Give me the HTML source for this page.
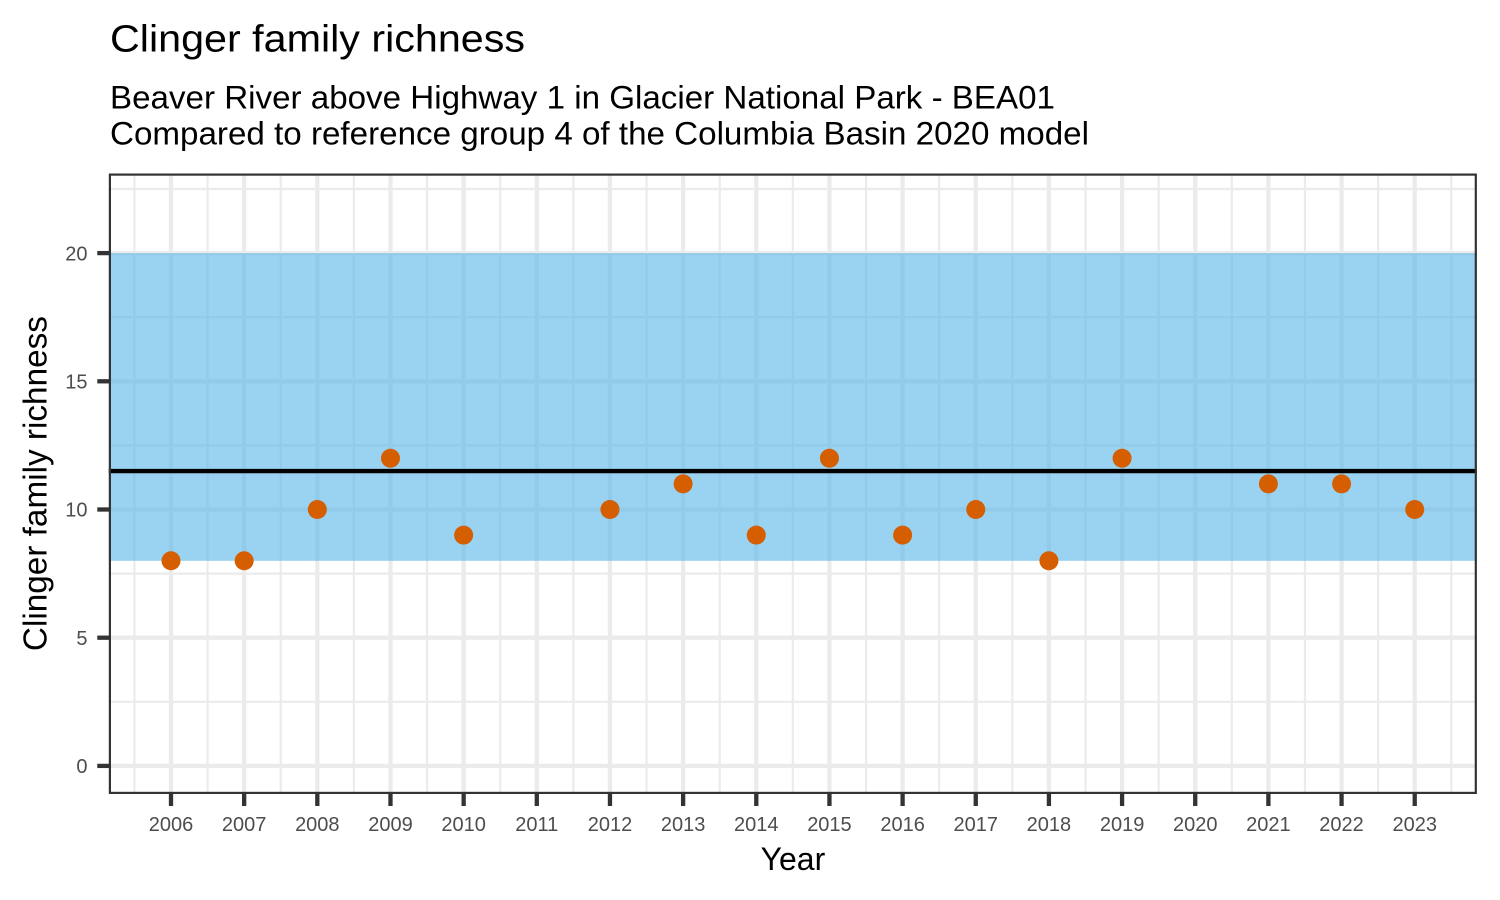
<!DOCTYPE html>
<html>
<head>
<meta charset="utf-8">
<style>
html,body{margin:0;padding:0;background:#fff;}
svg{display:block;}
text{font-family:"Liberation Sans",Arial,sans-serif;}
</style>
</head>
<body>
<svg width="1500" height="900" viewBox="0 0 1500 900" xmlns="http://www.w3.org/2000/svg">
<rect x="0" y="0" width="1500" height="900" fill="#ffffff"/>

<!-- Titles -->
<text x="110" y="51.5" font-size="38" fill="#000" textLength="415" lengthAdjust="spacingAndGlyphs">Clinger family richness</text>
<text x="110" y="108.5" font-size="32.5" fill="#000" textLength="945" lengthAdjust="spacingAndGlyphs">Beaver River above Highway 1 in Glacier National Park - BEA01</text>
<text x="110" y="144.5" font-size="32.5" fill="#000" textLength="979" lengthAdjust="spacingAndGlyphs">Compared to reference group 4 of the Columbia Basin 2020 model</text>

<defs>
<clipPath id="pc"><rect x="108.8" y="173.5" width="1368.1" height="620.5"/></clipPath>
</defs>

<g clip-path="url(#pc)">
<rect x="108.8" y="173.5" width="1368.1" height="620.5" fill="#ffffff"/>
<!-- minor grid -->
<g stroke="#EBEBEB" stroke-width="2.2">
<line x1="100" x2="1480" y1="701.8" y2="701.8"/>
<line x1="100" x2="1480" y1="573.6" y2="573.6"/>
<line x1="100" x2="1480" y1="445.4" y2="445.4"/>
<line x1="100" x2="1480" y1="317.2" y2="317.2"/>
<line x1="100" x2="1480" y1="189.0" y2="189.0"/>
<line y1="170" y2="800" x1="134.42" x2="134.42"/>
<line y1="170" y2="800" x1="207.58" x2="207.58"/>
<line y1="170" y2="800" x1="280.74" x2="280.74"/>
<line y1="170" y2="800" x1="353.9" x2="353.9"/>
<line y1="170" y2="800" x1="427.06" x2="427.06"/>
<line y1="170" y2="800" x1="500.22" x2="500.22"/>
<line y1="170" y2="800" x1="573.38" x2="573.38"/>
<line y1="170" y2="800" x1="646.54" x2="646.54"/>
<line y1="170" y2="800" x1="719.7" x2="719.7"/>
<line y1="170" y2="800" x1="792.86" x2="792.86"/>
<line y1="170" y2="800" x1="866.02" x2="866.02"/>
<line y1="170" y2="800" x1="939.18" x2="939.18"/>
<line y1="170" y2="800" x1="1012.34" x2="1012.34"/>
<line y1="170" y2="800" x1="1085.5" x2="1085.5"/>
<line y1="170" y2="800" x1="1158.66" x2="1158.66"/>
<line y1="170" y2="800" x1="1231.82" x2="1231.82"/>
<line y1="170" y2="800" x1="1304.98" x2="1304.98"/>
<line y1="170" y2="800" x1="1378.14" x2="1378.14"/>
<line y1="170" y2="800" x1="1451.3" x2="1451.3"/>
</g>
<!-- major grid -->
<g stroke="#EBEBEB" stroke-width="4.3">
<line x1="100" x2="1480" y1="765.9" y2="765.9"/>
<line x1="100" x2="1480" y1="637.7" y2="637.7"/>
<line x1="100" x2="1480" y1="509.5" y2="509.5"/>
<line x1="100" x2="1480" y1="381.3" y2="381.3"/>
<line x1="100" x2="1480" y1="253.1" y2="253.1"/>
<line y1="170" y2="800" x1="171" x2="171"/>
<line y1="170" y2="800" x1="244.16" x2="244.16"/>
<line y1="170" y2="800" x1="317.32" x2="317.32"/>
<line y1="170" y2="800" x1="390.48" x2="390.48"/>
<line y1="170" y2="800" x1="463.64" x2="463.64"/>
<line y1="170" y2="800" x1="536.8" x2="536.8"/>
<line y1="170" y2="800" x1="609.96" x2="609.96"/>
<line y1="170" y2="800" x1="683.12" x2="683.12"/>
<line y1="170" y2="800" x1="756.28" x2="756.28"/>
<line y1="170" y2="800" x1="829.44" x2="829.44"/>
<line y1="170" y2="800" x1="902.6" x2="902.6"/>
<line y1="170" y2="800" x1="975.76" x2="975.76"/>
<line y1="170" y2="800" x1="1048.92" x2="1048.92"/>
<line y1="170" y2="800" x1="1122.08" x2="1122.08"/>
<line y1="170" y2="800" x1="1195.24" x2="1195.24"/>
<line y1="170" y2="800" x1="1268.4" x2="1268.4"/>
<line y1="170" y2="800" x1="1341.56" x2="1341.56"/>
<line y1="170" y2="800" x1="1414.72" x2="1414.72"/>
</g>

<!-- reference band -->
<rect x="100" y="253.1" width="1390" height="307.7" fill="#56B4E9" fill-opacity="0.6"/>

<!-- median line -->
<line x1="100" x2="1480" y1="471.04" y2="471.04" stroke="#000" stroke-width="4.3"/>

<!-- points -->
<g fill="#D55E00">
<circle cx="171" cy="560.78" r="9.5"/>
<circle cx="244.16" cy="560.78" r="9.5"/>
<circle cx="317.32" cy="509.5" r="9.5"/>
<circle cx="390.48" cy="458.22" r="9.5"/>
<circle cx="463.64" cy="535.14" r="9.5"/>
<circle cx="609.96" cy="509.5" r="9.5"/>
<circle cx="683.12" cy="483.86" r="9.5"/>
<circle cx="756.28" cy="535.14" r="9.5"/>
<circle cx="829.44" cy="458.22" r="9.5"/>
<circle cx="902.6" cy="535.14" r="9.5"/>
<circle cx="975.76" cy="509.5" r="9.5"/>
<circle cx="1048.92" cy="560.78" r="9.5"/>
<circle cx="1122.08" cy="458.22" r="9.5"/>
<circle cx="1268.4" cy="483.86" r="9.5"/>
<circle cx="1341.56" cy="483.86" r="9.5"/>
<circle cx="1414.72" cy="509.5" r="9.5"/>
</g>
</g>

<!-- panel border (inner half visible) -->
<rect x="109.9" y="174.6" width="1365.9" height="618.3" fill="none" stroke="#333333" stroke-width="2.2"/>

<!-- y ticks -->
<g stroke="#333333" stroke-width="4.3">
<line x1="97.3" x2="109" y1="765.9" y2="765.9"/>
<line x1="97.3" x2="109" y1="637.7" y2="637.7"/>
<line x1="97.3" x2="109" y1="509.5" y2="509.5"/>
<line x1="97.3" x2="109" y1="381.3" y2="381.3"/>
<line x1="97.3" x2="109" y1="253.1" y2="253.1"/>
</g>
<g font-size="20" fill="#4D4D4D" text-anchor="end">
<text x="87.5" y="773.1">0</text>
<text x="87.5" y="644.9">5</text>
<text x="87.5" y="516.7">10</text>
<text x="87.5" y="388.5">15</text>
<text x="87.5" y="260.3">20</text>
</g>

<!-- x ticks -->
<g stroke="#333333" stroke-width="4.3">
<line y1="794" y2="806" x1="171" x2="171"/>
<line y1="794" y2="806" x1="244.16" x2="244.16"/>
<line y1="794" y2="806" x1="317.32" x2="317.32"/>
<line y1="794" y2="806" x1="390.48" x2="390.48"/>
<line y1="794" y2="806" x1="463.64" x2="463.64"/>
<line y1="794" y2="806" x1="536.8" x2="536.8"/>
<line y1="794" y2="806" x1="609.96" x2="609.96"/>
<line y1="794" y2="806" x1="683.12" x2="683.12"/>
<line y1="794" y2="806" x1="756.28" x2="756.28"/>
<line y1="794" y2="806" x1="829.44" x2="829.44"/>
<line y1="794" y2="806" x1="902.6" x2="902.6"/>
<line y1="794" y2="806" x1="975.76" x2="975.76"/>
<line y1="794" y2="806" x1="1048.92" x2="1048.92"/>
<line y1="794" y2="806" x1="1122.08" x2="1122.08"/>
<line y1="794" y2="806" x1="1195.24" x2="1195.24"/>
<line y1="794" y2="806" x1="1268.4" x2="1268.4"/>
<line y1="794" y2="806" x1="1341.56" x2="1341.56"/>
<line y1="794" y2="806" x1="1414.72" x2="1414.72"/>
</g>
<g font-size="20" fill="#4D4D4D" text-anchor="middle">
<text x="171" y="831">2006</text>
<text x="244.16" y="831">2007</text>
<text x="317.32" y="831">2008</text>
<text x="390.48" y="831">2009</text>
<text x="463.64" y="831">2010</text>
<text x="536.8" y="831">2011</text>
<text x="609.96" y="831">2012</text>
<text x="683.12" y="831">2013</text>
<text x="756.28" y="831">2014</text>
<text x="829.44" y="831">2015</text>
<text x="902.6" y="831">2016</text>
<text x="975.76" y="831">2017</text>
<text x="1048.92" y="831">2018</text>
<text x="1122.08" y="831">2019</text>
<text x="1195.24" y="831">2020</text>
<text x="1268.4" y="831">2021</text>
<text x="1341.56" y="831">2022</text>
<text x="1414.72" y="831">2023</text>
</g>

<!-- axis titles -->
<text x="792.9" y="870" font-size="32" fill="#000" text-anchor="middle">Year</text>
<text transform="translate(46.5,483.6) rotate(-90)" x="0" y="0" font-size="33" fill="#000" text-anchor="middle" textLength="335" lengthAdjust="spacingAndGlyphs">Clinger family richness</text>
</svg>
</body>
</html>
